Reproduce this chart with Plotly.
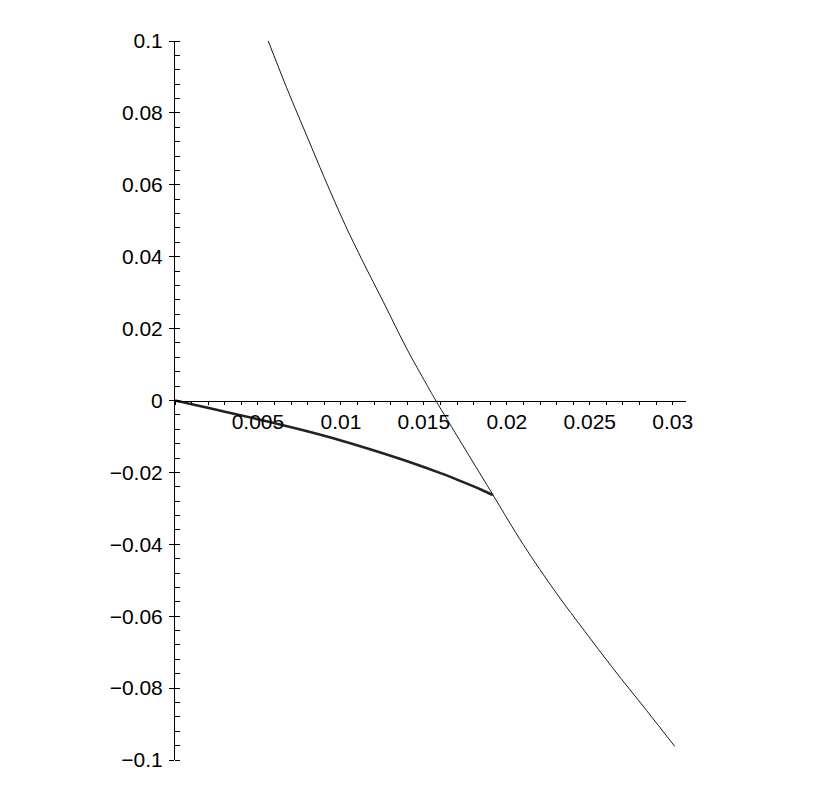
import plotly.graph_objects as go

# thin curve
thin_x = [0.00562, 0.00673, 0.00800, 0.00900, 0.01024, 0.01134, 0.01255, 0.01396, 0.01516,
          0.01577, 0.01917, 0.02098, 0.02299, 0.02470, 0.02640, 0.02842, 0.03012]
thin_y = [0.1, 0.087, 0.073, 0.062, 0.049, 0.0385, 0.0275, 0.0145, 0.0045,
          -0.0004, -0.0263, -0.0400, -0.0536, -0.0642, -0.0745, -0.0862, -0.0962]

# thick curve
thick_x = [0.0, 0.0025, 0.005, 0.0075, 0.01, 0.012, 0.014, 0.016, 0.017, 0.018, 0.0185, 0.01916]
thick_y = [0.0, -0.0026, -0.0052, -0.0080, -0.0111, -0.0139, -0.0169, -0.0202, -0.0220, -0.0239,
           -0.0249, -0.0263]

x_ticks = [0.005, 0.01, 0.015, 0.02, 0.025, 0.03]
x_labels = ["0.005", "0.01", "0.015", "0.02", "0.025", "0.03"]
y_ticks = [-0.1, -0.08, -0.06, -0.04, -0.02, 0, 0.02, 0.04, 0.06, 0.08, 0.1]
y_labels = ["\u22120.1", "\u22120.08", "\u22120.06", "\u22120.04", "\u22120.02", "0",
            "0.02", "0.04", "0.06", "0.08", "0.1"]

fig = go.Figure()
fig.add_trace(go.Scatter(x=thin_x, y=thin_y, mode="lines",
                         line=dict(color="#1a1a1a", width=1, shape="spline", smoothing=1),
                         hoverinfo="skip"))
fig.add_trace(go.Scatter(x=thick_x, y=thick_y, mode="lines",
                         line=dict(color="#222222", width=2.6, shape="spline", smoothing=1),
                         hoverinfo="skip"))

fig.update_layout(
    width=826,
    height=807,
    margin=dict(l=167, r=148, t=33, b=55),
    paper_bgcolor="white",
    plot_bgcolor="white",
    showlegend=False,
    font=dict(family="Liberation Sans, Arial, sans-serif", size=21, color="black"),
    xaxis=dict(
        range=[0, 0.0308],
        anchor="free",
        position=0.5,
        showgrid=False,
        zeroline=False,
        showline=True,
        linecolor="black",
        linewidth=1,
        tickmode="array",
        tickvals=x_ticks,
        ticktext=x_labels,
        ticks="outside",
        ticklen=2,
        tickcolor="black",
        minor=dict(ticks="outside", ticklen=3, dtick=0.001, tick0=0, tickcolor="black"),
    ),
    yaxis=dict(
        range=[-0.1, 0.1],
        showgrid=False,
        zeroline=False,
        showline=True,
        linecolor="black",
        linewidth=1,
        tickmode="array",
        tickvals=y_ticks,
        ticktext=y_labels,
        ticks="outside",
        ticklen=5,
        tickcolor="black",
        ticklabelstandoff=2,
        minor=dict(ticks="inside", ticklen=5, dtick=0.004, tick0=0, tickcolor="black"),
    ),
)

fig.write_html("out.html")
